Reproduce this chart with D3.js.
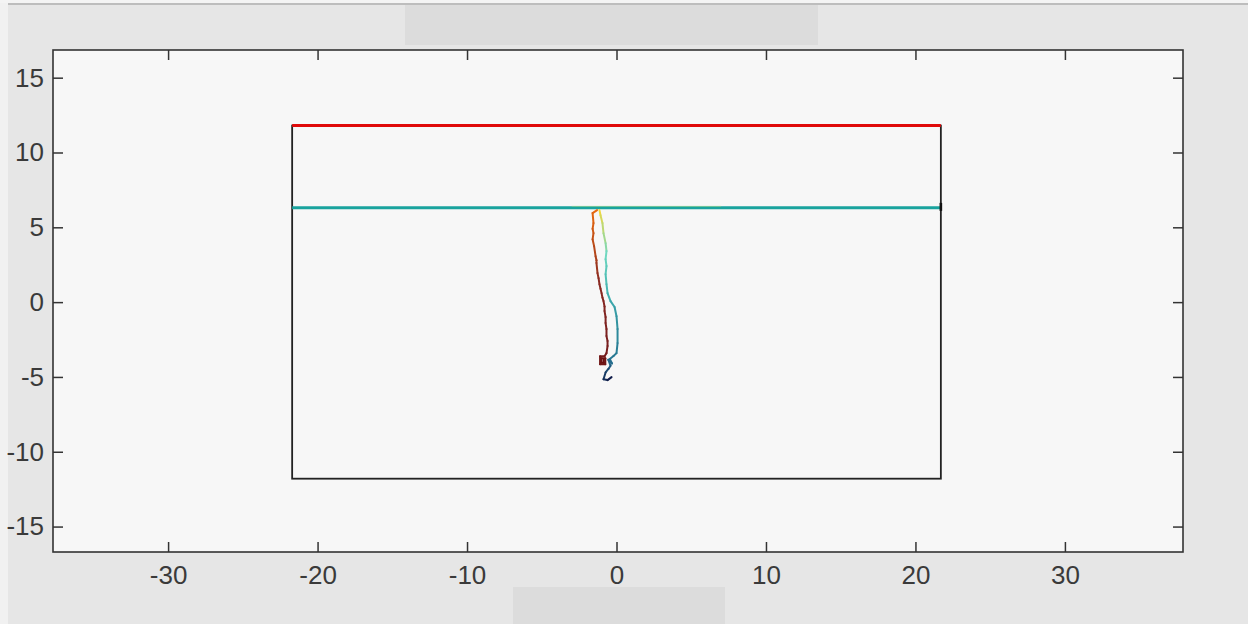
<!DOCTYPE html>
<html>
<head>
<meta charset="utf-8">
<script src="https://cdn.jsdelivr.net/npm/d3@7"></script>
<style>
  html, body { margin: 0; padding: 0; background: #e6e6e6; }
  svg { display: block; }
</style>
</head>
<body>
<script>
// ---- data ----
const xTicks = [-30, -20, -10, 0, 10, 20, 30];
const yTicks = [-15, -10, -5, 0, 5, 10, 15];
const xDomain = [-37.7, 37.9];
const yDomain = [-16.7, 16.85];

// arena rectangle corners
const boxX = [-21.7, 21.7];
const boxY = [-11.8, 11.8];
// horizontal lines
const redLineY = 11.8;
const tealLineY = 6.3;

// trajectory 1 (orange -> dark red)
const redPathX = [-1.30, -1.60, -1.54, -1.60, -1.54, -1.60, -1.50, -1.40, -1.34, -1.34, -1.27, -1.20, -1.14, -1.07, -1.00, -0.94, -0.87, -0.80, -0.80, -0.73, -0.73, -0.67, -0.67, -0.60, -0.60, -0.67, -0.80, -1.10, -1.10, -0.75, -0.75, -1.00, -1.00, -0.85, -0.85];
const redPathY = [6.15, 5.95, 5.28, 4.90, 4.61, 4.20, 3.74, 3.07, 2.80, 2.61, 1.94, 1.60, 1.20, 0.90, 0.60, 0.30, 0.07, -0.30, -0.60, -1.00, -1.40, -1.80, -2.27, -2.60, -2.94, -3.41, -3.62, -3.62, -4.15, -4.15, -3.75, -3.75, -4.05, -4.05, -3.80];

// trajectory 2 (yellow -> cyan -> dark blue)
const bluePathX = [-1.14, -1.07, -0.94, -0.87, -0.73, -0.67, -0.73, -0.67, -0.73, -0.67, -0.60, -0.40, -0.13, 0.00, 0.07, 0.07, 0.00, -0.20, -0.45, -0.30, -0.55, -0.40, -0.53, -0.73, -0.87, -0.60, -0.33];
const bluePathY = [6.15, 5.81, 5.28, 4.61, 3.94, 3.41, 2.87, 2.41, 1.87, 1.20, 0.60, 0.07, -0.33, -0.94, -1.80, -2.74, -3.41, -3.60, -3.80, -4.10, -3.85, -4.25, -4.45, -4.70, -5.15, -5.21, -5.01];

// ---- layout ----
const W = 1248, H = 624;
const svg = d3.select("body").append("svg").attr("width", W).attr("height", H);

const x = d3.scaleLinear().domain(xDomain).range([53, 1183]);
const y = d3.scaleLinear().domain(yDomain).range([552, 50]);

// background decorations
svg.append("rect").attr("x", 0).attr("y", 0).attr("width", W).attr("height", H).attr("fill", "#e6e6e6");
svg.append("rect").attr("x", 0).attr("y", 0).attr("width", 8).attr("height", H).attr("fill", "#f1f1f1");
svg.append("rect").attr("x", 0).attr("y", 0).attr("width", W).attr("height", 3).attr("fill", "#f4f4f4");
svg.append("rect").attr("x", 8).attr("y", 3).attr("width", W - 8).attr("height", 2).attr("fill", "#bdbdbd");
svg.append("rect").attr("x", 405).attr("y", 5).attr("width", 413).attr("height", 40).attr("fill", "#dcdcdc");
svg.append("rect").attr("x", 513).attr("y", 587).attr("width", 212).attr("height", 37).attr("fill", "#dcdcdc");

// plot area
svg.append("rect")
  .attr("x", x(xDomain[0])).attr("y", y(yDomain[1]))
  .attr("width", x(xDomain[1]) - x(xDomain[0]))
  .attr("height", y(yDomain[0]) - y(yDomain[1]))
  .attr("fill", "#f7f7f7");

const tickLen = 10;
const fontFam = "'Liberation Sans', Arial, Helvetica, sans-serif";

function styleAxis(g) {
  g.select(".domain").remove();
  g.selectAll(".tick line").attr("stroke", "#333").attr("stroke-width", 1.5);
  g.selectAll(".tick text").attr("fill", "#3a3a3a").style("font-family", fontFam).style("font-size", "26px");
}

const fmt = d => (d < 0 ? "-" : "") + Math.abs(d);

svg.append("g").attr("transform", `translate(0,${y(yDomain[0])})`)
  .call(d3.axisBottom(x).tickValues(xTicks).tickSize(-tickLen).tickPadding(14).tickFormat(fmt))
  .call(styleAxis);
svg.append("g").attr("transform", `translate(0,${y(yDomain[1])})`)
  .call(d3.axisTop(x).tickValues(xTicks).tickSize(-tickLen).tickFormat(""))
  .call(styleAxis);
svg.append("g").attr("transform", `translate(${x(xDomain[0])},0)`)
  .call(d3.axisLeft(y).tickValues(yTicks).tickSize(-tickLen).tickPadding(9).tickFormat(fmt))
  .call(styleAxis);
svg.append("g").attr("transform", `translate(${x(xDomain[1])},0)`)
  .call(d3.axisRight(y).tickValues(yTicks).tickSize(-tickLen).tickFormat(""))
  .call(styleAxis);

// frame
svg.append("rect")
  .attr("x", x(xDomain[0])).attr("y", y(yDomain[1]))
  .attr("width", x(xDomain[1]) - x(xDomain[0]))
  .attr("height", y(yDomain[0]) - y(yDomain[1]))
  .attr("fill", "none").attr("stroke", "#333").attr("stroke-width", 1.6);

// arena rectangle
svg.append("rect")
  .attr("x", x(boxX[0])).attr("y", y(boxY[1]))
  .attr("width", x(boxX[1]) - x(boxX[0]))
  .attr("height", y(boxY[0]) - y(boxY[1]))
  .attr("fill", "none").attr("stroke", "#222").attr("stroke-width", 1.8);

// horizontal lines
svg.append("line")
  .attr("x1", x(boxX[0])).attr("x2", x(boxX[1]))
  .attr("y1", y(redLineY)).attr("y2", y(redLineY))
  .attr("stroke", "#e00a0a").attr("stroke-width", 3);
svg.append("line")
  .attr("x1", x(boxX[0])).attr("x2", x(boxX[1]))
  .attr("y1", y(tealLineY)).attr("y2", y(tealLineY))
  .attr("stroke", "#19a39e").attr("stroke-width", 3);
svg.append("line")
  .attr("x1", x(-3)).attr("x2", x(7))
  .attr("y1", y(tealLineY) - 1.5).attr("y2", y(tealLineY) - 1.5)
  .attr("stroke", "#9ad67a").attr("stroke-width", 1).attr("opacity", 0.5);
// small mark at right wall
svg.append("line")
  .attr("x1", x(boxX[1])).attr("x2", x(boxX[1]))
  .attr("y1", y(tealLineY) - 5).attr("y2", y(tealLineY) + 3)
  .attr("stroke", "#111").attr("stroke-width", 2.6);

// trajectories, coloured along their length
function drawPath(xs, ys, colors, w) {
  const n = xs.length;
  const c = d3.scaleLinear().domain(colors.map((_, i) => i / (colors.length - 1) * (n - 2))).range(colors).interpolate(d3.interpolateRgb);
  for (let i = 0; i < n - 1; i++) {
    svg.append("line")
      .attr("x1", x(xs[i])).attr("y1", y(ys[i]))
      .attr("x2", x(xs[i + 1])).attr("y2", y(ys[i + 1]))
      .attr("stroke", c(i)).attr("stroke-width", w).attr("stroke-linecap", "round");
  }
}
drawPath(redPathX, redPathY, ["#e86a10", "#8a2a22", "#7a2020", "#6a1010"], 2);
drawPath(bluePathX, bluePathY, ["#f0d840", "#70d8c0", "#40b0b0", "#2a7f96", "#256a8c", "#101c4a"], 2);
</script>
</body>
</html>
